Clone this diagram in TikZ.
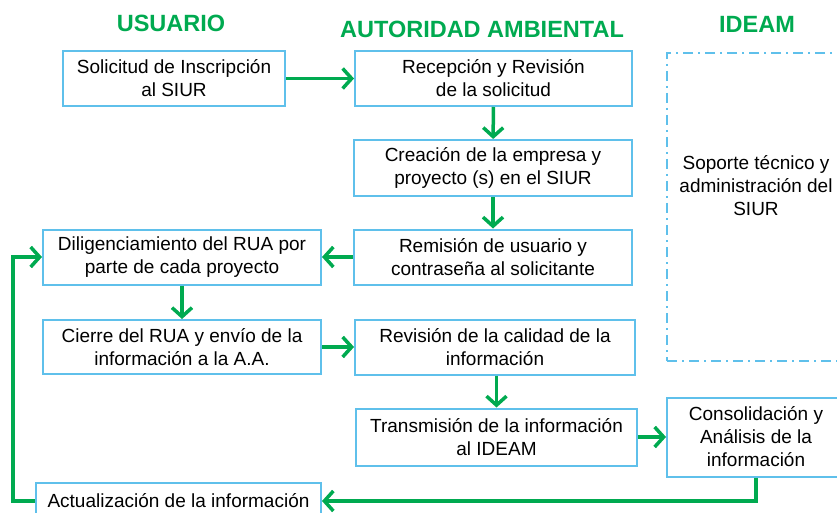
\documentclass[tikz,border=0pt]{standalone}
\usepackage{fontspec}
\setmainfont{Liberation Sans}
\definecolor{aagreen}{RGB}{0, 170, 80}
\definecolor{boxblue}{RGB}{95, 192, 235}
\usetikzlibrary{arrows.meta, positioning}

\begin{document}
\begin{tikzpicture}[x=1pt, y=-1pt,
  stepbox/.style={draw=boxblue, line width=2pt, fill=white, align=center, inner sep=0pt, font=\fontsize{19}{23}\selectfont},
  flow/.style={draw=aagreen, line width=3.5pt, -{Straight Barb[length=9pt, width=20pt]}},
  lanetitle/.style={text=aagreen, font=\fontsize{23.5}{28}\selectfont\bfseries}]

  \useasboundingbox (0,0) rectangle (837,513);

  % Lane titles
  \node[lanetitle] (usuario) at (171, 23.5) {USUARIO};
  \node[lanetitle] (autoridad) at (482, 29.5) {AUTORIDAD AMBIENTAL};
  \node[lanetitle] (ideam) at (757, 24) {IDEAM};

  % IDEAM support frame
  \node[draw=boxblue, line width=2.8pt, dash pattern=on 10pt off 5pt on 2pt off 5pt, minimum width=178, minimum height=308] (ideambox) at (756, 207) {};
  \node[align=center, font=\fontsize{19}{23}\selectfont] (soporte) at (756, 186) {Soporte técnico y\\administración del\\SIUR};

  % Process steps
  \node[stepbox, minimum width=222, minimum height=55] (b1) at (174, 78.5) {Solicitud de Inscripción\\al SIUR};
  \node[stepbox, minimum width=277, minimum height=55] (b2) at (493.5, 78.5) {Recepción y Revisión\\de la solicitud};
  \node[stepbox, minimum width=278, minimum height=56] (b3) at (493, 168) {Creación de la empresa y\\proyecto (s) en el SIUR};
  \node[stepbox, minimum width=278, minimum height=55] (b4) at (493, 257) {Remisión de usuario y\\contraseña al solicitante};
  \node[stepbox, minimum width=278, minimum height=55] (b5) at (182, 257) {Diligenciamiento del RUA por\\parte de cada proyecto};
  \node[stepbox, minimum width=278, minimum height=54] (b6) at (182, 347) {Cierre del RUA y envío de la\\información a la A.A.};
  \node[stepbox, minimum width=280, minimum height=55] (b7) at (495, 347) {Revisión de la calidad de la\\información};
  \node[stepbox, minimum width=281, minimum height=57] (b8) at (496.5, 437) {Transmisión de la información\\al IDEAM};
  \node[stepbox, minimum width=178, minimum height=79] (b9) at (756, 437) {Consolidación y\\Análisis de la\\información};
  \node[stepbox, minimum width=285, minimum height=36] (b10) at (178.5, 501) {Actualización de la información};

  % Connectors
  \draw[flow] (b1) -- (b2);
  \draw[flow] (b2) -- (b3);
  \draw[flow] (b3) -- (b4);
  \draw[flow] (b4) -- (b5);
  \draw[flow] (b5) -- (b6);
  \draw[flow] (b6) -- (b7);
  \draw[flow] (b7.south -| b8.north) -- (b8.north);
  \draw[flow] (b8) -- (b9);
  \draw[flow] (b9.south) |- (b10.east);
  \coordinate (back) at (13, 501);
  \draw[flow] (b10.west) -- (back) |- (b5.west);
\end{tikzpicture}
\end{document}
